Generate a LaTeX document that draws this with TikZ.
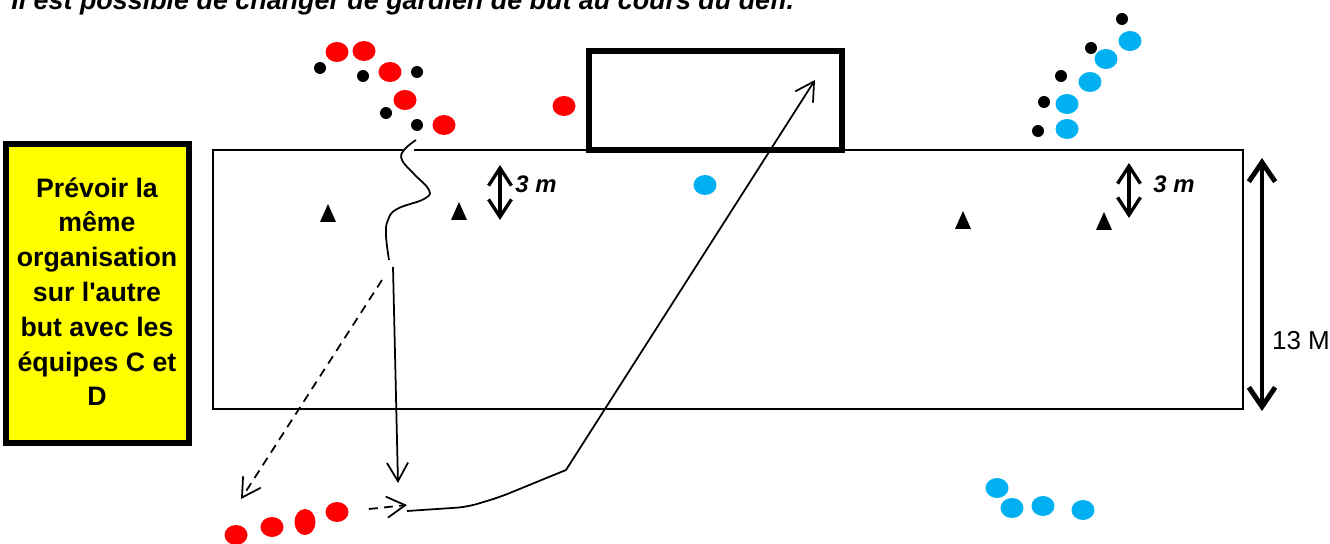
\documentclass[tikz,border=0pt]{standalone}
\usepackage{fontspec}
\setmainfont{Liberation Sans}
\newfontfamily\notefont{Liberation Sans}
\usetikzlibrary{arrows.meta, positioning, calc}
\definecolor{teamred}{RGB}{255, 0, 0}
\definecolor{teamblue}{RGB}{0, 176, 240}
\definecolor{notefill}{RGB}{255, 255, 0}
\tikzset{
  redplayer/.style={fill=teamred, draw=none},
  blueplayer/.style={fill=teamblue, draw=none},
  ballmark/.style={fill=black, draw=none},
  conemark/.style={fill=black, draw=none},
  moveline/.style={line width=1pt, -{Straight Barb[length=10.5pt, width=12pt, line width=1pt]}},
  sizearrow/.style={line width=1.9pt, {Straight Barb[length=10pt, width=13pt, line width=1.9pt]}-{Straight Barb[length=10pt, width=13pt, line width=1.9pt]}},
}
\newcommand{\conetri}[2]{\fill[conemark] (#1-8,#2+9) -- (#1,#2-9) -- (#1+8,#2+9) -- cycle;}
\begin{document}
\begin{tikzpicture}[x=0.02cm, y=-0.02cm]
  \useasboundingbox (0,0) rectangle (1330,544);

  % consigne
  \node[font=\fontsize{15.3pt}{18pt}\selectfont\bfseries\itshape, anchor=base west, inner sep=0pt] (consigne) at (11,9.5)
    {Il est possible de changer de gardien de but au cours du défi.};

  % terrain
  \draw[line width=0.9pt] (213,150) rectangle (1243,409);
  \fill[white] (403,147) rectangle (414,153);

  % but
  \draw[line width=3pt] (589,51) rectangle (842,150);

  % encadre jaune
  \node[draw, line width=3.4pt, fill=notefill, minimum width=103.7pt, minimum height=170.7pt, inner sep=0pt] (note) at (97.5,293.5) {};
  \foreach \ligne/\ypos in {Prévoir la/197, même/231.8, organisation/266.6, sur l'autre/301.4, but avec les/336.2, équipes C et/371, D/405.8}
    \node[font=\notefont\fontsize{15.2pt}{18pt}\selectfont\bfseries, anchor=base, inner sep=0pt] at (97,\ypos) {\ligne};

  % joueurs rouges
  \foreach \px/\py in {337/52, 364/51, 390/72, 405/100, 444/125, 564/106, 272/527, 337/512}
    \fill[redplayer] (\px,\py) ellipse (11.5 and 10);
  \fill[redplayer] (236,535) ellipse (11.5 and 10);
  \fill[redplayer] (305,522) ellipse (10.5 and 13);

  % joueurs bleus
  \foreach \px/\py in {705/185, 1130/41, 1106/59, 1090/82, 1067/104, 1067/129, 997/488, 1012/508, 1043/506, 1083/510}
    \fill[blueplayer] (\px,\py) ellipse (11.5 and 10);

  % ballons
  \foreach \px/\py in {320/68, 363/76, 417/72, 386/113, 417/125, 1122/19, 1091/48, 1061/76, 1044/102, 1038/131}
    \fill[ballmark] (\px,\py) circle (6);

  % plots
  \conetri{328}{213}
  \conetri{459}{211}
  \conetri{963}{220}
  \conetri{1104}{221}

  % distances
  \draw[sizearrow] (500,165) -- (500,220);
  \node[font=\fontsize{13.6pt}{16pt}\selectfont\bfseries\itshape] (dista) at (536,184) {3 m};
  \draw[sizearrow] (1129,163) -- (1129,218);
  \node[font=\fontsize{13.6pt}{16pt}\selectfont\bfseries\itshape] (distb) at (1174,184) {3 m};
  \draw[line width=2.8pt, {Straight Barb[length=11pt, width=15pt, line width=2.8pt]}-{Straight Barb[length=11pt, width=15pt, line width=2.8pt]}] (1262,158) -- (1262,411);
  \node[font=\fontsize{14.8pt}{17pt}\selectfont] (largeur) at (1301,341) {13 M};

  % conduite de balle
  \draw[line width=1pt] plot[smooth, tension=0.7] coordinates
    {(416,140) (404,150) (402,160) (414,174) (429,190) (424,199) (397,209) (388,220) (386,235) (389,260)};

  % passes et tir
  \draw[moveline] (393,267) -- (398,483);
  \draw[moveline, dash pattern=on 5pt off 3.6pt] (382,280) -- (241,499);
  \draw[moveline, dash pattern=on 5pt off 3.6pt] (369,509) -- (407,505);
  \draw[moveline, rounded corners=6pt] (407,511) -- (467,507) -- (500,497) [sharp corners] -- (566,470) -- (815,80);
\end{tikzpicture}
\end{document}
